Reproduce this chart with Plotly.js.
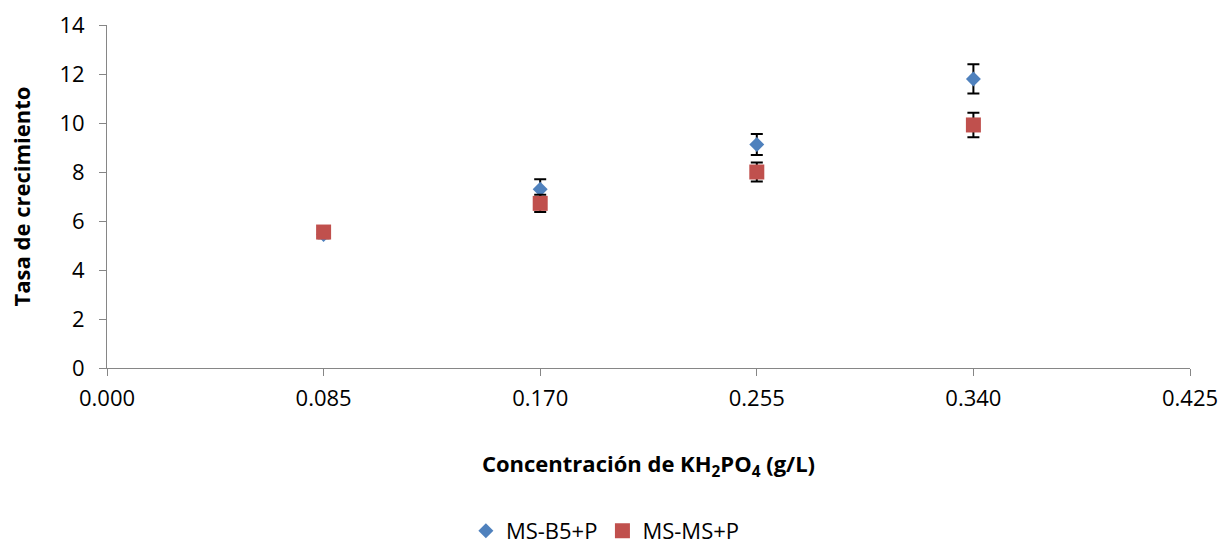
<!DOCTYPE html>
<html>
<head>
<meta charset="utf-8">
<script src="https://cdn.plot.ly/plotly-3.0.1.min.js"></script>
<style>html,body{margin:0;padding:0;background:#fff;}#chart{width:1223px;height:544px;}</style>
</head>
<body>
<div id="chart"></div>
<script>
const concentrations = [0.085, 0.170, 0.255, 0.340];
const msB5P = [5.45, 7.3, 9.12, 11.8];
const msB5PErr = [0.15, 0.4, 0.43, 0.6];
const msMSP = [5.55, 6.72, 8.0, 9.92];
const msMSPErr = [0.15, 0.35, 0.39, 0.5];
const seriesNames = ['MS-B5+P', 'MS-MS+P'];

const font = '"Open Sans", "Liberation Sans", sans-serif';

const traces = [
  {
    x: concentrations, y: msB5P, name: seriesNames[0], type: 'scatter', mode: 'markers',
    marker: {symbol: 'diamond', size: 11.5, color: '#4F81BD'},
    error_y: {type: 'data', array: msB5PErr, visible: true, color: '#000', thickness: 2, width: 6}
  },
  {
    x: concentrations, y: msMSP, name: seriesNames[1], type: 'scatter', mode: 'markers',
    marker: {symbol: 'square', size: 15, color: '#C0504D'},
    error_y: {type: 'data', array: msMSPErr, visible: true, color: '#000', thickness: 2, width: 6}
  }
];

const layout = {
  width: 1223, height: 544,
  margin: {l: 107, r: 33, t: 25, b: 176},
  paper_bgcolor: '#fff', plot_bgcolor: '#fff',
  font: {family: font, size: 22, color: '#000'},
  showlegend: true,
  legend: {orientation: 'h', x: 0.495, xref: 'container', xanchor: 'center',
           y: 0.024, yref: 'container', yanchor: 'middle',
           font: {family: font, size: 22, color: '#000'}, traceorder: 'normal'},
  xaxis: {
    range: [0, 0.425], tick0: 0, dtick: 0.085, tickformat: '.3f',
    showgrid: false, zeroline: false, showline: true, linecolor: '#868686', linewidth: 1,
    ticks: 'outside', ticklen: 7, tickcolor: '#868686', ticklabelstandoff: 4,
    tickfont: {family: font, size: 22},
    title: {text: '<b>Concentración de KH<sub>2</sub>PO<sub>4</sub> (g/L)</b>', font: {family: font, size: 22}, standoff: 45}
  },
  yaxis: {
    range: [0, 14], dtick: 2,
    showgrid: false, zeroline: false, showline: true, linecolor: '#868686', linewidth: 1,
    ticks: 'outside', ticklen: 7, tickcolor: '#868686', ticklabelstandoff: 10,
    tickfont: {family: font, size: 22},
    title: {text: '<b>Tasa de crecimiento</b>', font: {family: font, size: 22}, standoff: 22}
  }
};

Plotly.newPlot('chart', traces, layout, {displayModeBar: false, responsive: false});
</script>
</body>
</html>
